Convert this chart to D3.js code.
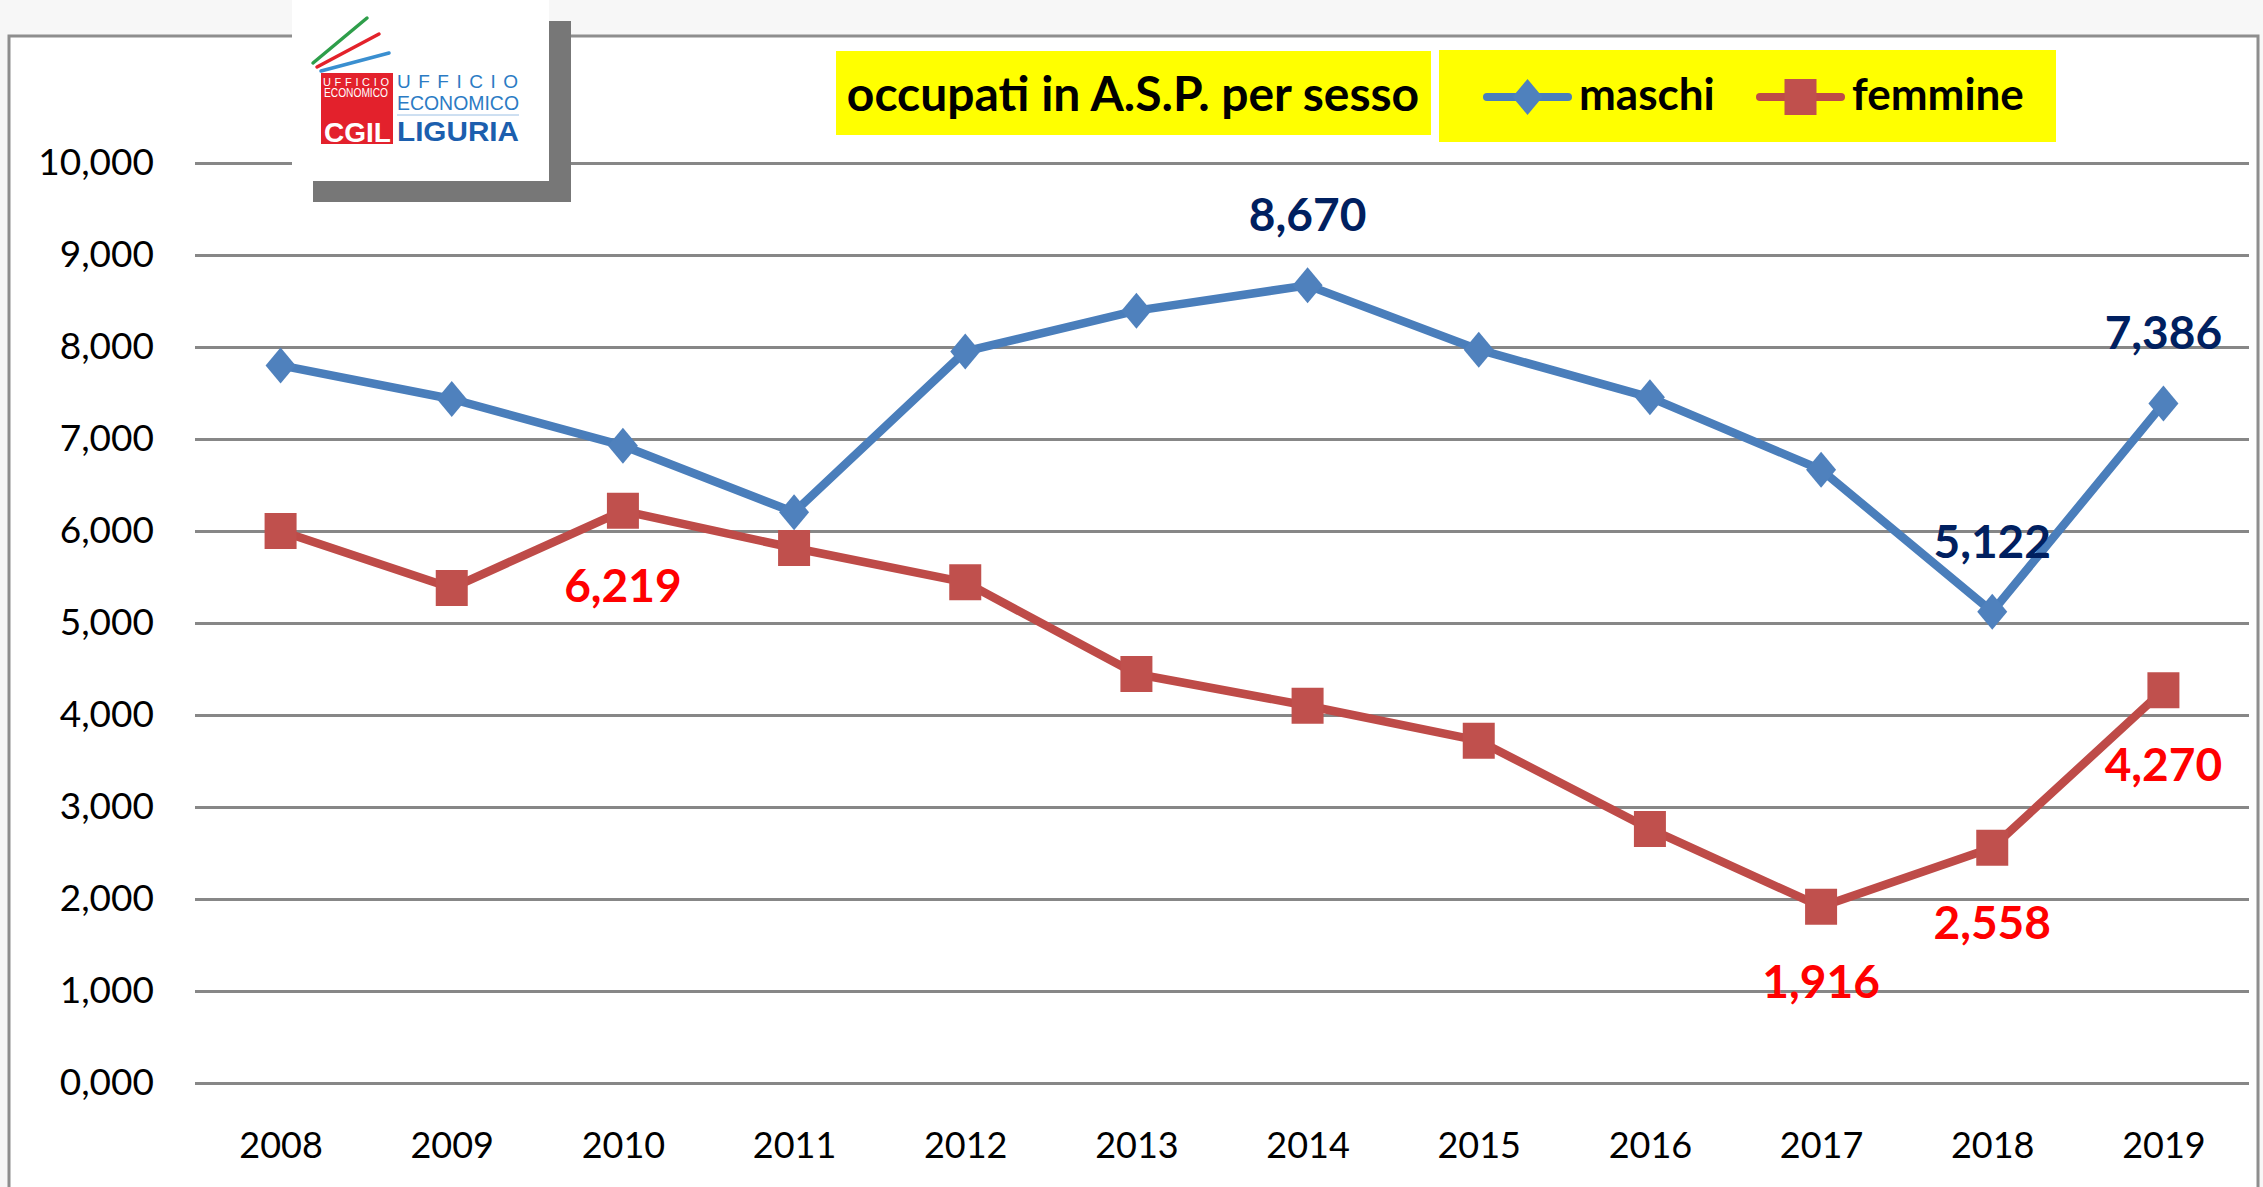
<!DOCTYPE html>
<html>
<head>
<meta charset="utf-8">
<script src="https://cdn.jsdelivr.net/npm/d3@7"></script>
<style>
  body { margin: 0; background: #f7f7f7; }
  svg { display: block; }
</style>
</head>
<body>
<svg id="chart"></svg>
<script>
// data
const years = ["2008", "2009", "2010", "2011", "2012", "2013", "2014", "2015", "2016", "2017", "2018", "2019"];
const maschi = [7800, 7435, 6927, 6203, 7952, 8395, 8670, 7971, 7453, 6666, 5122, 7386];
const femmine = [6000, 5380, 6219, 5815, 5442, 4446, 4101, 3721, 2761, 1916, 2558, 4270];
const yTicks = [0, 1000, 2000, 3000, 4000, 5000, 6000, 7000, 8000, 9000, 10000];
const yTickLabels = ["0,000", "1,000", "2,000", "3,000", "4,000", "5,000", "6,000", "7,000", "8,000", "9,000", "10,000"];
// which points carry a value label
const maschiLabelled = ["2014", "2018", "2019"];
const femmineLabelled = ["2010", "2017", "2018", "2019"];
const seriesNames = ["maschi", "femmine"];
const chartTitle = "occupati in A.S.P. per sesso";

class LineChart {

  constructor(_config) {
    this.config = {
      parentElement: _config.parentElement,
      containerWidth: _config.containerWidth || 2263,
      containerHeight: _config.containerHeight || 1187,
      margin: _config.margin || {top: 163, right: 14, bottom: 104, left: 195}
    }
    this.initVis();
  }

  initVis() {
    let vis = this;

    vis.width = vis.config.containerWidth - vis.config.margin.left - vis.config.margin.right;
    vis.height = vis.config.containerHeight - vis.config.margin.top - vis.config.margin.bottom;

    vis.svg = d3.select(vis.config.parentElement)
      .attr('width', vis.config.containerWidth)
      .attr('height', vis.config.containerHeight);

    // white chart area with the grey frame (bottom edge runs off the picture)
    vis.svg.append('rect')
      .attr('x', 9).attr('y', 36)
      .attr('width', 2249).attr('height', 1200)
      .attr('fill', '#fff')
      .attr('stroke', '#8e8e8e')
      .attr('stroke-width', 3);

    vis.chart = vis.svg.append('g')
      .attr('transform', `translate(${vis.config.margin.left},${vis.config.margin.top})`);

    vis.xScale = d3.scalePoint()
      .domain(years)
      .range([0, vis.width])
      .padding(0.5);

    vis.yScale = d3.scaleLinear()
      .domain([0, 10000])
      .range([vis.height, 0]);

    // y axis + gridlines
    vis.yAxisG = vis.chart.append('g')
      .call(d3.axisLeft(vis.yScale)
        .tickValues(yTicks)
        .tickFormat((d, i) => yTickLabels[i])
        .tickSize(-vis.width)
        .tickPadding(41));
    vis.yAxisG.select('.domain').remove();
    vis.yAxisG.selectAll('line')
      .attr('stroke', '#878787')
      .attr('stroke-width', 3);
    vis.yAxisG.selectAll('text')
      .attr('font-family', 'Lato, sans-serif')
      .attr('font-size', 37)
      .attr('fill', '#000');

    // x axis labels only (the zero gridline is the axis line)
    vis.xAxisG = vis.chart.append('g')
      .attr('transform', `translate(0,${vis.height})`)
      .call(d3.axisBottom(vis.xScale).tickSize(0));
    vis.xAxisG.select('.domain').remove();
    vis.xAxisG.selectAll('text')
      .attr('y', 75)
      .attr('dy', null)
      .attr('font-family', 'Lato, sans-serif')
      .attr('font-size', 36)
      .attr('fill', '#000');

    vis.line = d3.line()
      .x((d, i) => vis.xScale(years[i]))
      .y(d => vis.yScale(d));

    vis.renderVis();
    vis.renderHeader();
  }

  renderVis() {
    let vis = this;

    const series = [
      {name: 'maschi', values: maschi, stroke: '#4a7ebb', fill: '#4f81bd', shape: 'diamond',
       labelled: maschiLabelled, labelColor: '#002060', offset: -54},
      {name: 'femmine', values: femmine, stroke: '#be4b48', fill: '#c0504d', shape: 'square',
       labelled: femmineLabelled, labelColor: '#ff0000', offset: 91}
    ];

    series.forEach(s => {
      vis.chart.append('path')
        .datum(s.values)
        .attr('d', vis.line)
        .attr('fill', 'none')
        .attr('stroke', s.stroke)
        .attr('stroke-width', 8.5)
        .attr('stroke-linejoin', 'round');

      vis.chart.selectAll('.marker-' + s.name)
        .data(s.values)
        .join('path')
        .attr('class', 'marker-' + s.name)
        .attr('transform', (d, i) => `translate(${vis.xScale(years[i])},${vis.yScale(d)})`)
        .attr('d', markerPath(s.shape))
        .attr('fill', s.fill);

      vis.chart.selectAll('.label-' + s.name)
        .data(s.values.map((v, i) => ({year: years[i], value: v})).filter(d => s.labelled.includes(d.year)))
        .join('text')
        .attr('class', 'label-' + s.name)
        .attr('x', d => vis.xScale(d.year))
        .attr('y', d => vis.yScale(d.value) + s.offset)
        .attr('text-anchor', 'middle')
        .attr('font-family', 'Lato, sans-serif')
        .attr('font-weight', 'bold')
        .attr('font-size', 46)
        .attr('fill', s.labelColor)
        .text(d => d3.format(',')(d.value));
    });
  }

  renderHeader() {
    let vis = this;

    // title box
    vis.svg.append('rect')
      .attr('x', 836).attr('y', 51).attr('width', 595).attr('height', 84)
      .attr('fill', '#ffff00');
    vis.svg.append('text')
      .attr('x', 1133).attr('y', 111)
      .attr('text-anchor', 'middle')
      .attr('font-family', 'Lato, sans-serif')
      .attr('font-weight', 'bold')
      .attr('font-size', 48)
      .text(chartTitle);

    // legend box
    vis.svg.append('rect')
      .attr('x', 1439).attr('y', 50).attr('width', 617).attr('height', 92)
      .attr('fill', '#ffff00');

    const legend = [
      {name: seriesNames[0], stroke: '#4a7ebb', fill: '#4f81bd', shape: 'diamond', x: 1483},
      {name: seriesNames[1], stroke: '#be4b48', fill: '#c0504d', shape: 'square', x: 1756}
    ];
    legend.forEach(l => {
      const g = vis.svg.append('g').attr('transform', `translate(${l.x},97)`);
      g.append('line')
        .attr('x1', 4).attr('x2', 85)
        .attr('stroke', l.stroke).attr('stroke-width', 8)
        .attr('stroke-linecap', 'round');
      g.append('path')
        .attr('transform', 'translate(44.5,0)')
        .attr('d', markerPath(l.shape))
        .attr('fill', l.fill);
      g.append('text')
        .attr('x', 96).attr('y', 13)
        .attr('font-family', 'Lato, sans-serif')
        .attr('font-weight', 'bold')
        .attr('font-size', 44)
        .text(l.name);
    });

    // CGIL logo with drop shadow
    const logo = vis.svg.append('g');
    logo.append('rect').attr('x', 313).attr('y', 21).attr('width', 258).attr('height', 181).attr('fill', '#777');
    logo.append('rect').attr('x', 292).attr('y', 0).attr('width', 257).attr('height', 181).attr('fill', '#fff');

    const strokes = [
      {x1: 313, y1: 63, x2: 367, y2: 18, c: '#2e9e4a'},
      {x1: 317, y1: 67, x2: 379, y2: 34, c: '#e3222b'},
      {x1: 321, y1: 71, x2: 389, y2: 53, c: '#3a8fd0'}
    ];
    logo.selectAll('.stroke').data(strokes).join('line')
      .attr('x1', d => d.x1).attr('y1', d => d.y1)
      .attr('x2', d => d.x2).attr('y2', d => d.y2)
      .attr('stroke', d => d.c).attr('stroke-width', 3.5)
      .attr('stroke-linecap', 'round');

    logo.append('rect').attr('x', 321).attr('y', 73).attr('width', 72).attr('height', 71).attr('fill', '#e3212c');

    const logoText = [
      {t: 'UFFICIO', x: 323, y: 86, len: 66, size: 11, w: 'normal', c: '#fff', adj: 'spacing'},
      {t: 'ECONOMICO', x: 324, y: 97, len: 64, size: 12, w: 'normal', c: '#fff', adj: 'spacingAndGlyphs'},
      {t: 'CGIL', x: 324, y: 142, len: 67, size: 27, w: 'bold', c: '#fff', adj: 'spacingAndGlyphs'},
      {t: 'UFFICIO', x: 397, y: 88, len: 121, size: 19, w: 'normal', c: '#2b7bc4', adj: 'spacing'},
      {t: 'ECONOMICO', x: 397, y: 110, len: 122, size: 20, w: 'normal', c: '#2b7bc4', adj: 'spacingAndGlyphs'},
      {t: 'LIGURIA', x: 397, y: 141, len: 122, size: 28, w: 'bold', c: '#1c5fae', adj: 'spacingAndGlyphs'}
    ];
    logo.selectAll('.logo-text').data(logoText).join('text')
      .attr('x', d => d.x).attr('y', d => d.y)
      .attr('textLength', d => d.len)
      .attr('lengthAdjust', d => d.adj)
      .attr('font-family', 'Liberation Sans, Arial, sans-serif')
      .attr('font-size', d => d.size)
      .attr('font-weight', d => d.w)
      .attr('fill', d => d.c)
      .text(d => d.t);
    logo.append('line')
      .attr('x1', 397).attr('x2', 519).attr('y1', 115).attr('y2', 115)
      .attr('stroke', '#9cc0e4').attr('stroke-width', 1);
  }
}

// marker outlines: diamond 30x36, square 32x36
function markerPath(shape) {
  if (shape === 'diamond') return 'M0,-18L15,0L0,18L-15,0Z';
  return 'M-16,-18H16V18H-16Z';
}

new LineChart({parentElement: '#chart'});
</script>
</body>
</html>
